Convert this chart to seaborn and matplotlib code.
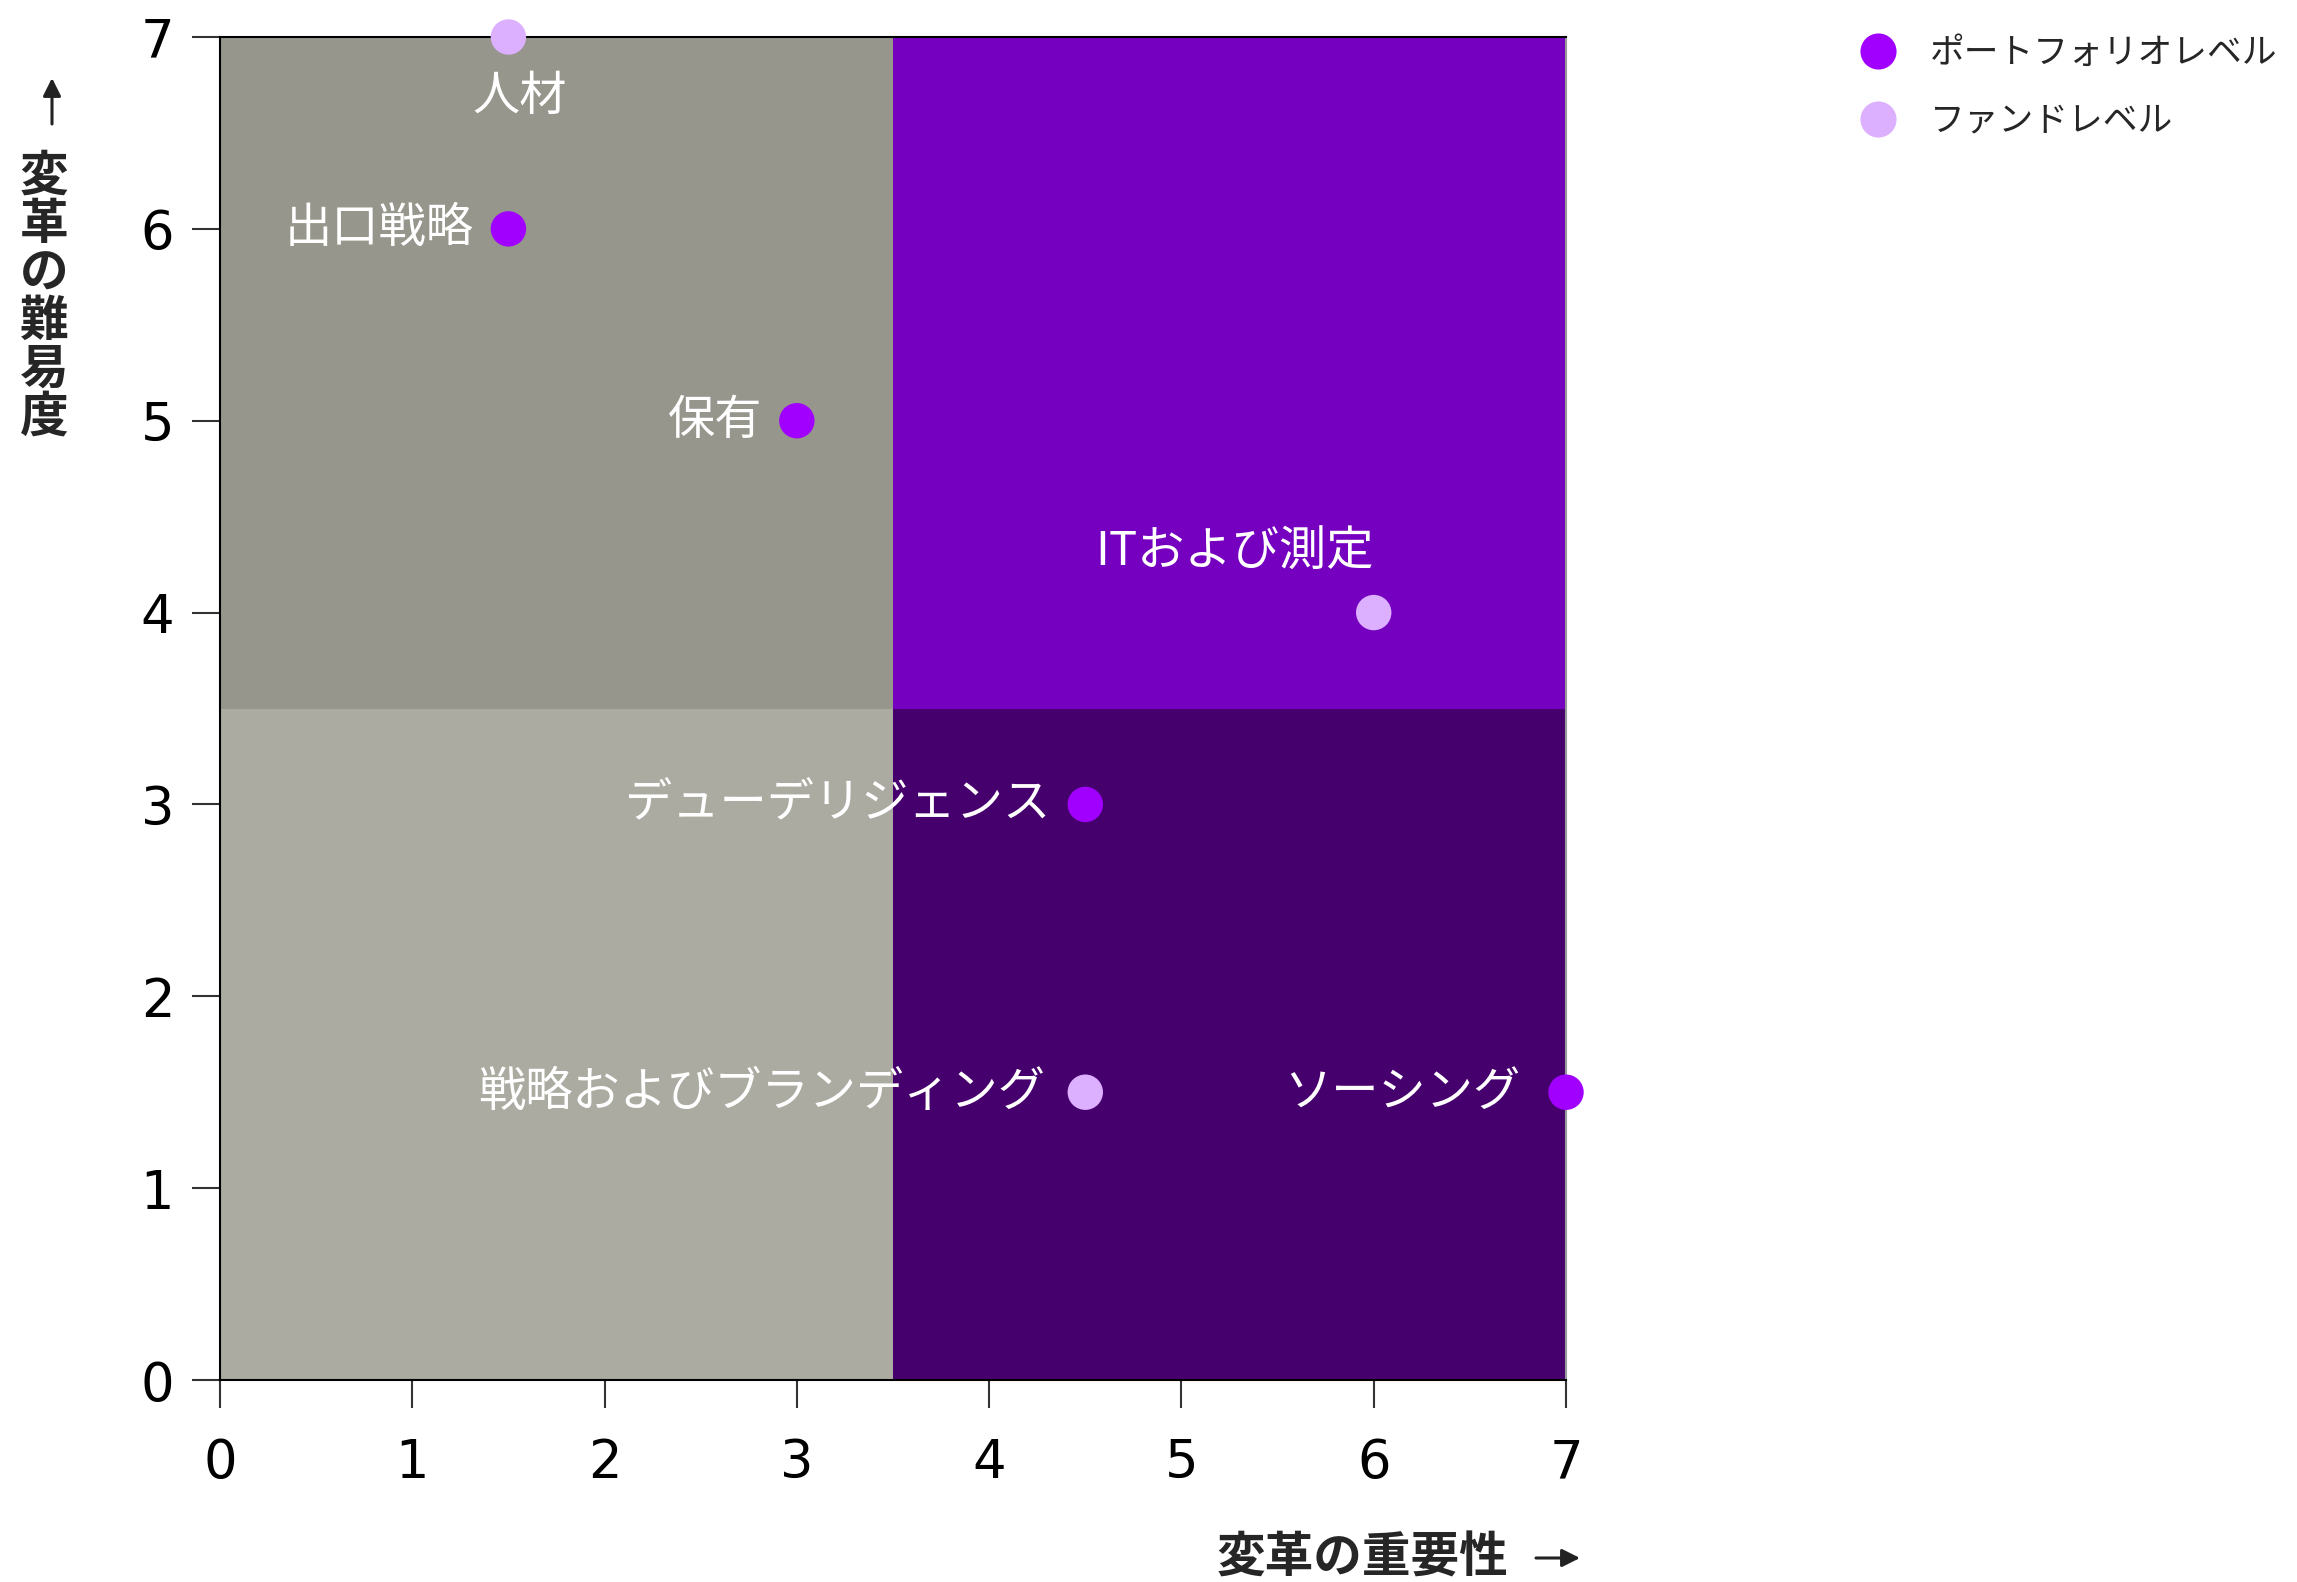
import matplotlib
matplotlib.use("Agg")
import matplotlib.pyplot as plt
import seaborn as sns
import pandas as pd
from matplotlib.lines import Line2D

sns.set_theme(style="white")
plt.rcParams['font.family'] = ['DejaVu Sans', 'Noto Sans CJK JP']

# ---- data ----
labels = ["人材", "出口戦略", "保有", "ITおよび測定", "デューデリジェンス", "戦略およびブランディング", "ソーシング"]
importance = [1.5, 1.5, 3, 6, 4.5, 4.5, 7]
difficulty = [7, 6, 5, 4, 3, 1.5, 1.5]
level = ["ファンドレベル", "ポートフォリオレベル", "ポートフォリオレベル", "ファンドレベル",
         "ポートフォリオレベル", "ファンドレベル", "ポートフォリオレベル"]
level_order = ["ポートフォリオレベル", "ファンドレベル"]
level_colors = ["#A100FF", "#DCAFFF"]
ticks = [0, 1, 2, 3, 4, 5, 6, 7]
split = 3.5
xlabel = "変革の重要性"
ylabel = "変革の難易度"

df = pd.DataFrame({"label": labels, "x": importance, "y": difficulty, "level": level})

W, H = 2297, 1582
fig = plt.figure(figsize=(W / 100, H / 100), dpi=100)
ax = fig.add_axes([220/W, 1-1380/H, (1566-220)/W, (1380-37)/H])

lo, hi = ticks[0], ticks[-1]
# quadrants
ax.fill_between([lo, split], split, hi, color="#96968C", lw=0, zorder=0)
ax.fill_between([lo, split], lo, split, color="#ABABA2", lw=0, zorder=0)
ax.fill_between([split, hi], split, hi, color="#7500C0", lw=0, zorder=0)
ax.fill_between([split, hi], lo, split, color="#46006D", lw=0, zorder=0)

palette = dict(zip(level_order, level_colors))
sns.scatterplot(data=df, x="x", y="y", hue="level", hue_order=level_order, palette=palette,
                s=650, edgecolor="none", legend=False, ax=ax, clip_on=False, zorder=5)

ax.set_xlim(lo, hi)
ax.set_ylim(lo, hi)
ax.set_xticks(ticks)
ax.set_yticks(ticks)
ax.set_xlabel("")
ax.set_ylabel("")
ax.tick_params(axis="both", which="both", direction="out", length=20, width=1.5,
               color="#333333", labelsize=38, labelcolor="black",
               bottom=True, left=True)
ax.tick_params(axis="x", pad=21)
ax.tick_params(axis="y", pad=13)
for side in ["left", "bottom", "top"]:
    ax.spines[side].set_color("black")
    ax.spines[side].set_linewidth(1.5)
ax.spines["right"].set_color("#999999")
ax.spines["right"].set_linewidth(1.5)

# point labels
offsets = {
    "人材": (8, -43, "center", "center"),
    "出口戦略": (-25, 0, "right", "center"),
    "保有": (-25, 0, "right", "center"),
    "ITおよび測定": (-100, 43, "center", "center"),
    "デューデリジェンス": (-25, 0, "right", "center"),
    "戦略およびブランディング": (-29, 0, "right", "center"),
    "ソーシング": (-33, 0, "right", "center"),
}
cjk = ['Noto Sans CJK JP', 'DejaVu Sans']
for lab, xv, yv in zip(labels, importance, difficulty):
    dx, dy, ha, va = offsets[lab]
    ax.annotate(lab, (xv, yv), xytext=(dx, dy), textcoords="offset points",
                ha=ha, va=va, fontsize=34, color="white", family=cjk, zorder=6)

# axis titles
fig.text(1508/W, 1-1558/H, xlabel, ha="right", va="center", fontsize=35,
         fontweight="bold", family=cjk)
fig.text(44/W, 1-297/H, "\n".join(ylabel), ha="center", va="center", fontsize=35,
         fontweight="bold", linespacing=0.98, family=cjk)
arrow_kw = dict(arrowstyle="-|>,head_length=0.9,head_width=0.45", color="#222222", lw=2.2,
                shrinkA=0, shrinkB=0)
ax.annotate("", xy=(1580, H-1558), xytext=(1536, H-1558), xycoords="figure pixels",
            textcoords="figure pixels", arrowprops=arrow_kw, annotation_clip=False)
ax.annotate("", xy=(52, H-78), xytext=(52, H-124), xycoords="figure pixels",
            textcoords="figure pixels", arrowprops=arrow_kw, annotation_clip=False)

# legend
handles = [Line2D([], [], marker="o", linestyle="none", markersize=26,
                  markerfacecolor=c, markeredgecolor="none") for c in level_colors]
fig.legend(handles, level_order, loc="upper left", bbox_to_anchor=(1829/W, 1-22/H),
           frameon=False, handletextpad=0.5, labelspacing=0.95, borderaxespad=0,
           prop={'family': cjk, 'size': 25})

fig.savefig("out.png", dpi=100)
